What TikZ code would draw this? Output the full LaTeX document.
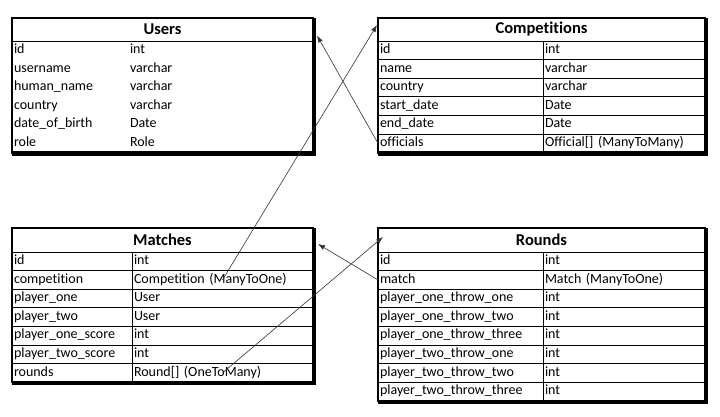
\documentclass[tikz,border=0pt]{standalone}
\usepackage{fontspec}
\setmainfont[Ligatures=NoCommon]{Carlito}
\usetikzlibrary{arrows.meta}

\tikzset{
  cella/.style={draw, line width=0.8pt, anchor=north west, outer sep=0pt,
    inner sep=2pt, minimum height=18.6pt, text height=9.5pt, text depth=3pt,
    align=left, text width=#1, font=\fontsize{14}{16}\selectfont},
  testa/.style={draw, line width=0.8pt, anchor=north west, outer sep=0pt,
    minimum height=23pt, font=\bfseries\fontsize{16.5}{18}\selectfont},
  bordo/.style={line width=2.5pt},
  ombra/.style={line width=2pt},
  freccia/.style={-{Latex[length=7pt,width=5pt]}, line width=0.6pt, black!80}
}

\begin{document}
\begin{tikzpicture}[x=1pt,y=-1pt]
\useasboundingbox (0,0) rectangle (720,416);

% Tabella Users
\node[testa, minimum width=301pt] (users) at (12,18) {Users};
\foreach \nome/\tipo [count=\i] in {id/int, username/varchar, human\_name/varchar,
    country/varchar, date\_of\_birth/Date, role/Role}{
  \node[cella=112pt, draw=none] (u-n\i) at (12,{41+18.6*(\i-1)}) {\nome};
  \node[cella=181pt, draw=none] (u-t\i) at (u-n\i.north east) {\tipo};
}
\draw[bordo] (users.north west) rectangle (u-t6.south east);
\draw[ombra] ([shift={(2,0)}]users.north east) -- ([shift={(2,2)}]u-t6.south east) -- ([shift={(0,2)}]u-n6.south west);

% Tabella Competitions
\node[testa, minimum width=327pt] (comp) at (378,18) {Competitions};
\foreach \nome/\tipo [count=\i] in {id/int, name/varchar, country/varchar,
    start\_date/Date, end\_date/Date, officials/Official[] (ManyToMany)}{
  \node[cella=161pt] (c-n\i) at (378,{41+18.6*(\i-1)}) {\nome};
  \node[cella=158pt] (c-t\i) at (c-n\i.north east) {\tipo};
}
\draw[bordo] (comp.north west) rectangle (c-t6.south east);
\draw[ombra] ([shift={(2,0)}]comp.north east) -- ([shift={(2,2)}]c-t6.south east) -- ([shift={(0,2)}]c-n6.south west);

% Tabella Matches
\node[testa, minimum width=301pt, minimum height=24pt] (matches) at (12,228) {Matches};
\foreach \nome/\tipo [count=\i] in {id/int, competition/Competition (ManyToOne),
    player\_one/User, player\_two/User, player\_one\_score/int,
    player\_two\_score/int, rounds/Round[] (OneToMany)}{
  \node[cella=116pt] (m-n\i) at (12,{252+18.6*(\i-1)}) {\nome};
  \node[cella=177pt] (m-t\i) at (m-n\i.north east) {\tipo};
}
\draw[bordo] (matches.north west) rectangle (m-t7.south east);
\draw[ombra] ([shift={(2,0)}]matches.north east) -- ([shift={(2,2)}]m-t7.south east) -- ([shift={(0,2)}]m-n7.south west);

% Tabella Rounds
\node[testa, minimum width=327pt, minimum height=24pt] (rounds) at (378,228) {Rounds};
\foreach \nome/\tipo [count=\i] in {id/int, match/Match (ManyToOne),
    player\_one\_throw\_one/int, player\_one\_throw\_two/int,
    player\_one\_throw\_three/int, player\_two\_throw\_one/int,
    player\_two\_throw\_two/int, player\_two\_throw\_three/int}{
  \node[cella=161pt] (r-n\i) at (378,{252+18.6*(\i-1)}) {\nome};
  \node[cella=158pt] (r-t\i) at (r-n\i.north east) {\tipo};
}
\draw[bordo] (rounds.north west) rectangle (r-t8.south east);
\draw[ombra] ([shift={(2,0)}]rounds.north east) -- ([shift={(2,2)}]r-t8.south east) -- ([shift={(0,2)}]r-n8.south west);

% Relazioni
\draw[freccia] (c-n6.west) -- ([shift={(4,6)}]users.east);
\draw[freccia] (m-t2.center) -- ([shift={(-1,7)}]comp.north west);
\draw[freccia] (r-n2.west) -- ([shift={(5,4)}]matches.east);
\draw[freccia] (m-t7.center) -- ([shift={(5,9)}]rounds.north west);

\end{tikzpicture}
\end{document}
